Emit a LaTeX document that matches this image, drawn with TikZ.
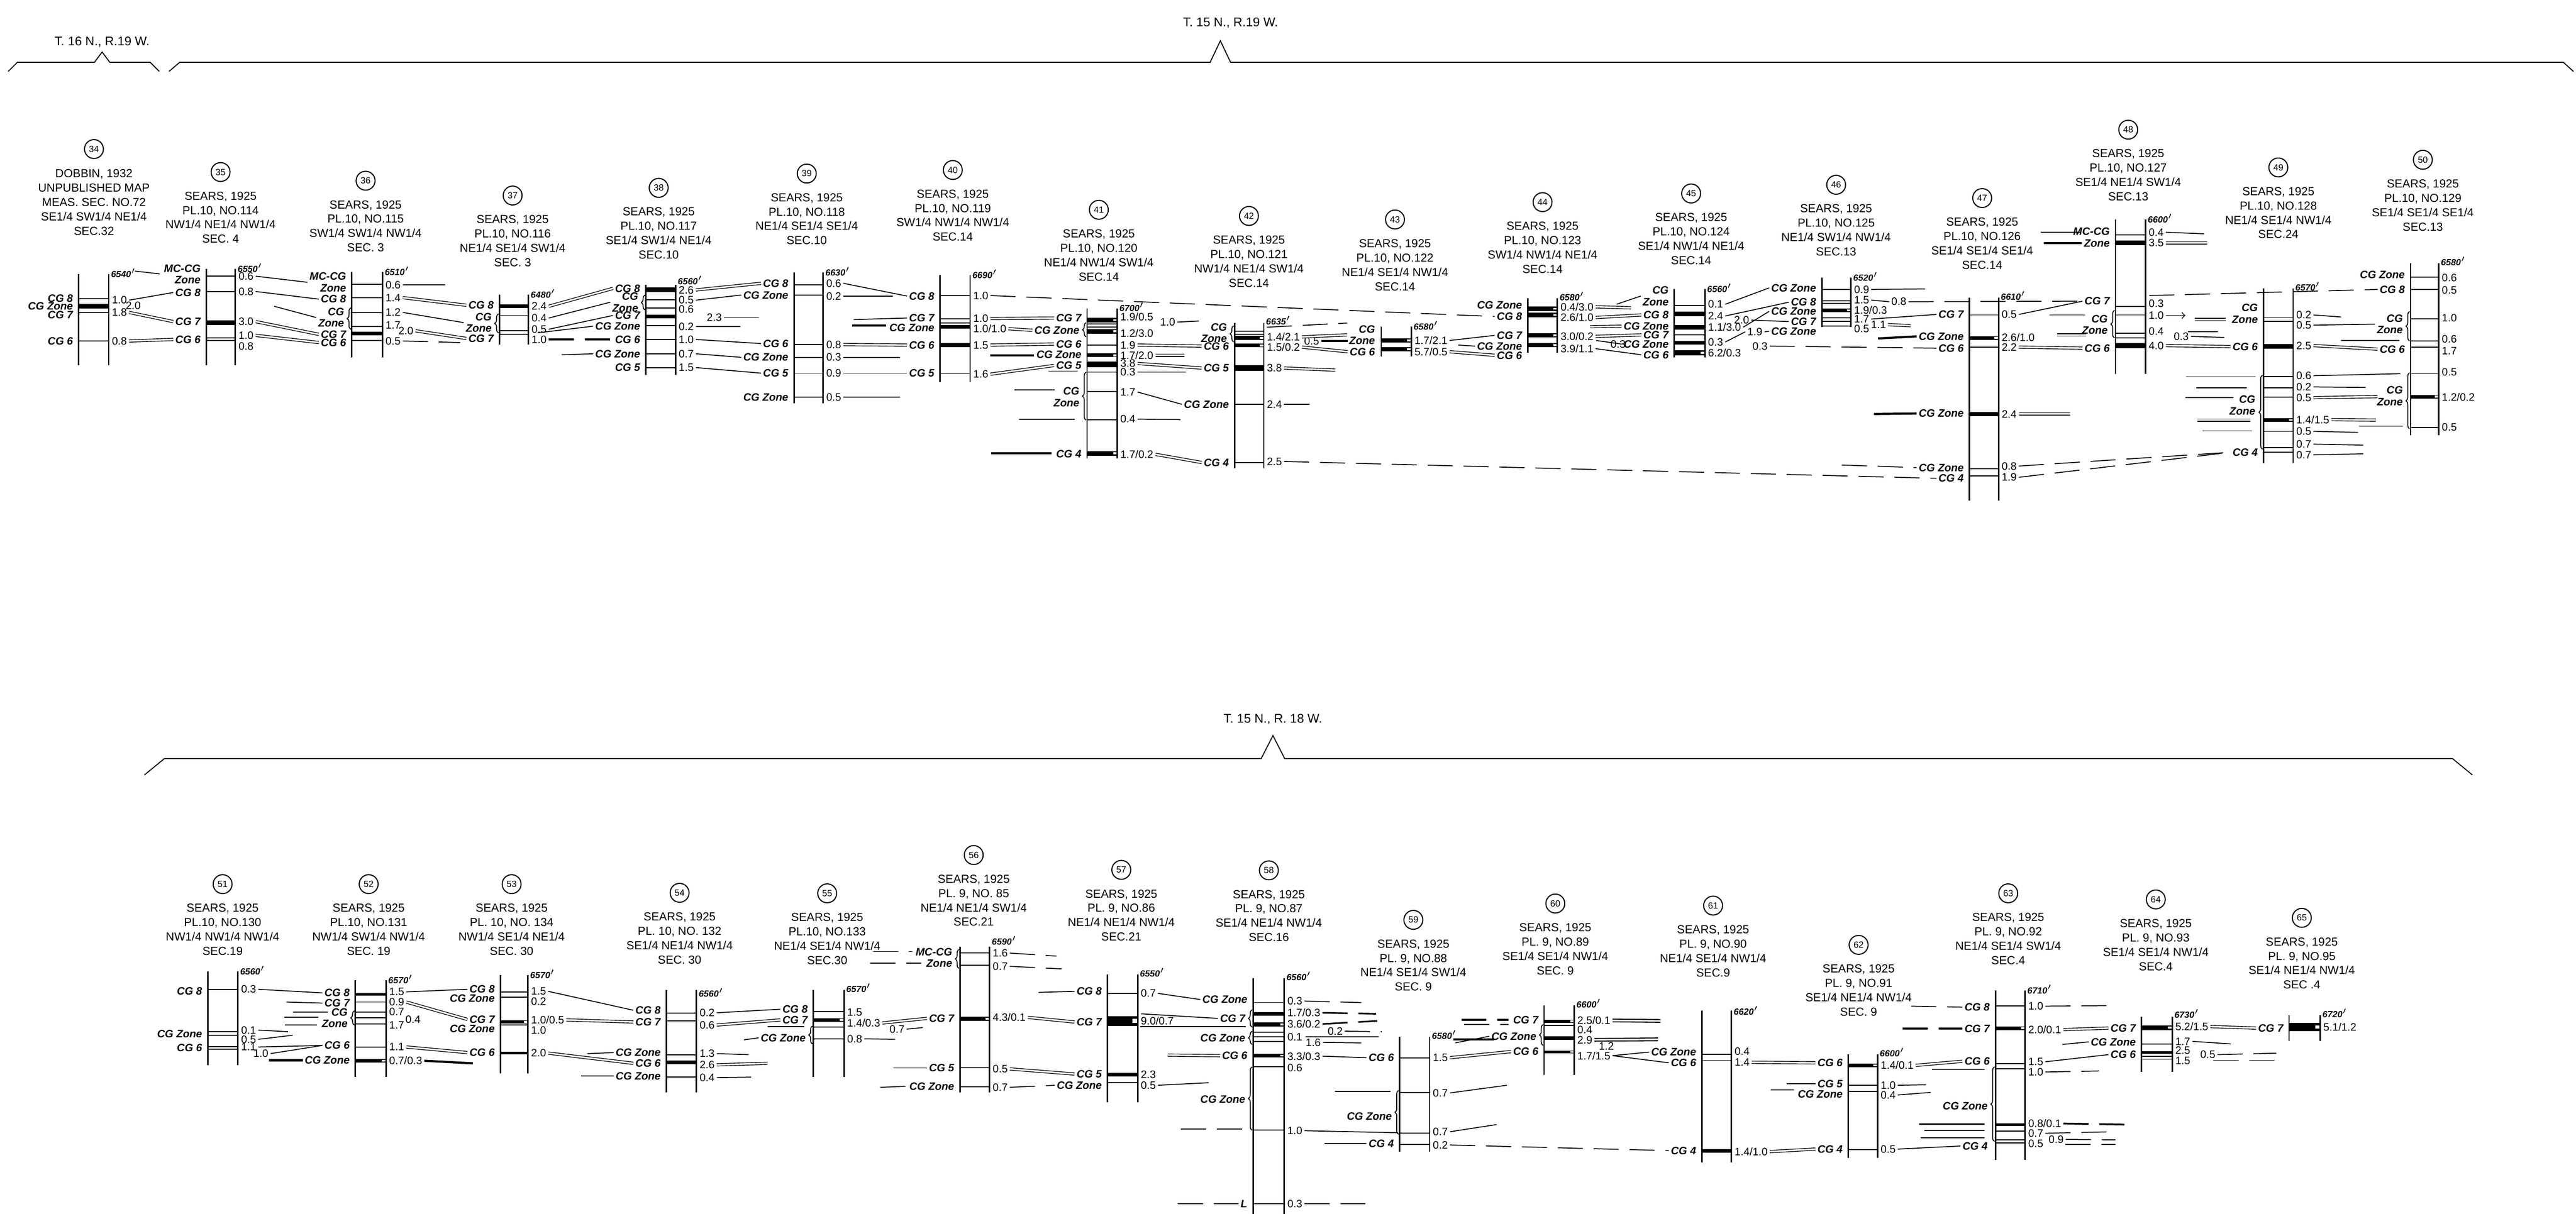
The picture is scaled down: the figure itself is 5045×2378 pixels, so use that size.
\documentclass[tikz,border=0pt]{standalone}
\usepackage{fontspec}
\setmainfont{Liberation Sans}
\usetikzlibrary{decorations.pathreplacing}

\begin{document}
\begin{tikzpicture}[x=0.01cm, y=-0.01cm,
    num/.style={draw, circle, line width=0.6pt, inner sep=0pt, minimum size=0.37cm, font=\fontsize{5}{5.5}\selectfont},
    hd/.style={anchor=north, align=center, inner sep=0pt, font=\fontsize{6.5}{8}\selectfont},
    lab/.style={anchor=east, align=right, inner sep=1pt, font=\fontsize{6}{6.5}\selectfont\bfseries\itshape},
    val/.style={anchor=west, inner sep=1pt, font=\fontsize{6}{6.5}\selectfont},
    elev/.style={anchor=west, inner sep=0.5pt, font=\fontsize{5}{5.5}\selectfont\bfseries\itshape},
    ttl/.style={font=\fontsize{7}{8}\selectfont},
    colline/.style={line width=0.8pt},
    bedl/.style={line width=0.55pt},
    coal/.style={line width=2.6pt},
    notch/.style={white, line width=1pt},
    corr/.style={line width=0.5pt},
    dcorr/.style={corr, dash pattern=on 14pt off 6pt},
    dbl/.style={double, double distance=0.9pt, line width=0.4pt},
    zbrace/.style={decorate, decoration={brace, amplitude=2pt}, line width=0.5pt}]

\useasboundingbox (0,0) rectangle (5045,2378);

% township brackets
\node[ttl] (t16) at (200,82) {T. 16 N., R.19 W.};
\draw[bedl] (16,140) -- (34,122) -- (185,122) -- (200,102) -- (215,122) -- (294,122) -- (312,140);
\node[ttl] (t15a) at (2410,45) {T. 15 N., R.19 W.};
\draw[bedl] (331,140) -- (352,122) -- (2370,122) -- (2390,80) -- (2410,122) -- (5020,122) -- (5040,140);
\node[ttl] (t15b) at (2493,1409) {T. 15 N., R. 18 W.};
\draw[bedl] (283,1518) -- (322,1486) -- (2470,1486) -- (2493,1441) -- (2516,1486) -- (4803,1486) -- (4842,1518);

% ---------------- upper row ----------------
% 34
\node[num] (c34) at (184,292) {34};
\node[hd] (h34) at (184,331) {DOBBIN, 1932\\UNPUBLISHED MAP\\MEAS. SEC. NO.72\\SE1/4 SW1/4 NE1/4\\SEC.32};
\draw[bedl] (154,585) -- (213,585) (154,612) -- (213,612) (154,668) -- (213,668);
\draw[coal] (154,600) -- (213,600);
\draw[colline] (154,537) -- (154,715) (213,537) -- (213,715);
\node[elev] (e34) at (215,535) {6540$'$};
\node[lab] (l34a) at (147,584) {CG 8};
\node[lab] (l34b) at (147,600) {CG Zone};
\node[lab] (l34c) at (147,617) {CG 7};
\node[lab] (l34d) at (147,668) {CG 6};
\node[val] (v34a) at (215,588) {1.0};
\node[val] (v34b) at (242,599) {2.0};
\node[val] (v34c) at (215,612) {1.8};
\node[val] (v34d) at (215,668) {0.8};

% 35
\node[num] (c35) at (432,337) {35};
\node[hd] (h35) at (432,375) {SEARS, 1925\\PL.10, NO.114\\NW1/4 NE1/4 NW1/4\\SEC. 4};
\draw[bedl] (404,541) -- (461,541) (404,571) -- (461,571) (404,662) -- (461,662) (404,667) -- (461,667);
\draw[coal] (404,632) -- (461,632);
\draw[colline] (404,527) -- (404,715) (461,527) -- (461,715);
\node[elev] (e35) at (463,525) {6550$'$};
\node[lab] (l35a) at (397,537) {MC-CG\\Zone};
\node[lab] (l35b) at (397,573) {CG 8};
\node[lab] (l35c) at (397,630) {CG 7};
\node[lab] (l35d) at (397,665) {CG 6};
\node[val] (v35a) at (463,541) {0.6};
\node[val] (v35b) at (463,571) {0.8};
\node[val] (v35c) at (463,630) {3.0};
\node[val] (v35d) at (463,657) {1.0};
\node[val] (v35e) at (463,678) {0.8};
\draw[corr] (v34a.east) -- (l35b.west);
\draw[dbl] (v34c.east) -- (l35c.west);
\draw[dbl] (v34d.east) -- (l35d.west);
\draw[dcorr] (264,531) -- (l35a.west);

% 36
\node[num] (c36) at (716,354) {36};
\node[hd] (h36) at (716,392) {SEARS, 1925\\PL.10, NO.115\\SW1/4 SW1/4 NW1/4\\SEC. 3};
\draw[bedl] (689,557) -- (749,557) (689,583) -- (749,583) (689,612) -- (749,612) (689,640) -- (749,640) (689,667) -- (749,667);
\draw[coal, line width=2pt] (689,653) -- (749,653);
\draw[colline] (689,533) -- (689,700) (749,533) -- (749,700);
\node[elev] (e36) at (751,531) {6510$'$};
\draw[zbrace] (687,645) -- (687,603);
\node[lab] (l36a) at (682,553) {MC-CG\\Zone};
\node[lab] (l36b) at (682,586) {CG 8};
\node[lab] (l36c) at (678,622) {CG\\Zone};
\node[lab] (l36d) at (682,655) {CG 7};
\node[lab] (l36e) at (682,671) {CG 6};
\node[val] (v36a) at (751,558) {0.6};
\node[val] (v36b) at (751,583) {1.4};
\node[val] (v36c) at (751,612) {1.2};
\node[val] (v36d) at (751,637) {1.7};
\node[val] (v36e) at (776,648) {2.0};
\node[val] (v36f) at (751,668) {0.5};
\draw[corr] (v35a.east) -- (l36a.west);
\draw[corr] (v35b.east) -- (l36b.west);
\draw[corr] (537,600) -- (l36c.west);
\draw[dbl] (v35c.east) -- (l36d.west);
\draw[dbl] (v35d.east) -- (l36e.west);

% 37
\node[num] (c37) at (1004,383) {37};
\node[hd] (h37) at (1004,421) {SEARS, 1925\\PL.10, NO.116\\NE1/4 SE1/4 SW1/4\\SEC. 3};
\draw[bedl] (978,618) -- (1035,618) (978,648) -- (1035,648) (978,655) -- (1035,655);
\draw[coal, line width=2.2pt] (978,600) -- (1035,600);
\draw[colline] (978,577) -- (978,675) (1035,577) -- (1035,675);
\node[elev] (e37) at (1037,575) {6480$'$};
\draw[zbrace] (976,652) -- (976,615);
\node[lab] (l37a) at (971,598) {CG 8};
\node[lab] (l37b) at (967,632) {CG\\Zone};
\node[lab] (l37c) at (971,663) {CG 7};
\node[val] (v37a) at (1037,600) {2.4};
\node[val] (v37b) at (1037,623) {0.4};
\node[val] (v37c) at (1037,645) {0.5};
\node[val] (v37d) at (1037,665) {1.0};
\draw[corr] (v36a.east) -- (872,558);
\draw[dbl] (v36b.east) -- (l37a.west);
\draw[corr] (v36c.east) -- (l37b.west);
\draw[dbl] (v36e.east) -- (l37c.west);
\draw[dcorr] (v36f.east) -- (901,671);

% 38
\node[num] (c38) at (1290,368) {38};
\node[hd] (h38) at (1290,406) {SEARS, 1925\\PL.10, NO.117\\SE1/4 SW1/4 NE1/4\\SEC.10};
\draw[bedl] (1265,587) -- (1323,587) (1265,603) -- (1323,603) (1265,638) -- (1323,638) (1265,665) -- (1323,665) (1265,693) -- (1323,693) (1265,720) -- (1323,720);
\draw[coal] (1265,568) -- (1323,568);
\draw[coal, line width=2pt] (1265,620) -- (1323,620);
\draw[colline] (1265,558) -- (1265,735) (1323,558) -- (1323,735);
\node[elev] (e38) at (1325,549) {6560$'$};
\draw[zbrace] (1263,607) -- (1263,578);
\node[lab] (l38a) at (1258,565) {CG 8};
\node[lab] (l38b) at (1254,592) {CG\\Zone};
\node[lab] (l38c) at (1258,618) {CG 7};
\node[lab] (l38d) at (1258,639) {CG Zone};
\node[lab] (l38e) at (1258,665) {CG 6};
\node[lab] (l38f) at (1258,693) {CG Zone};
\node[lab] (l38g) at (1258,720) {CG 5};
\node[val] (v38a) at (1325,568) {2.6};
\node[val] (v38b) at (1325,588) {0.5};
\node[val] (v38c) at (1325,606) {0.6};
\node[val] (v38d) at (1380,622) {2.3};
\node[val] (v38e) at (1325,640) {0.2};
\node[val] (v38f) at (1325,665) {1.0};
\node[val] (v38g) at (1325,693) {0.7};
\node[val] (v38h) at (1325,720) {1.5};
\draw[dbl] (v37a.east) -- (l38a.west);
\draw[corr] (v37b.east) -- (l38b.west);
\draw[corr] (v37c.east) -- (l38c.west);
\draw[corr] (1053,652) -- (l38d.west);
\draw[dcorr, line width=1pt] (v37d.east) -- (l38e.west);
\draw[corr] (1100,695) -- (l38f.west);

% 39
\node[num] (c39) at (1580,340) {39};
\node[hd] (h39) at (1580,378) {SEARS, 1925\\PL.10, NO.118\\NE1/4 SE1/4 SE1/4\\SEC.10};
\draw[bedl] (1555,558) -- (1612,558) (1555,578) -- (1612,578) (1555,675) -- (1612,675) (1555,700) -- (1612,700) (1555,731) -- (1612,731) (1555,778) -- (1612,778);
\draw[colline] (1555,534) -- (1555,790) (1612,534) -- (1612,790);
\node[elev] (e39) at (1614,532) {6630$'$};
\node[lab] (l39a) at (1548,555) {CG 8};
\node[lab] (l39b) at (1548,578) {CG Zone};
\node[lab] (l39c) at (1548,673) {CG 6};
\node[lab] (l39d) at (1548,700) {CG Zone};
\node[lab] (l39e) at (1548,731) {CG 5};
\node[lab] (l39f) at (1548,778) {CG Zone};
\node[val] (v39a) at (1614,555) {0.6};
\node[val] (v39b) at (1614,580) {0.2};
\node[val] (v39c) at (1614,675) {0.8};
\node[val] (v39d) at (1614,700) {0.3};
\node[val] (v39e) at (1614,731) {0.9};
\node[val] (v39f) at (1614,778) {0.5};
\draw[dbl] (v38a.east) -- (l39a.west);
\draw[corr] (v38b.east) -- (l39b.west);
\draw[corr] (v38d.east) -- (1486,622);
\draw[corr] (v38e.east) -- (1450,640);
\draw[corr] (v38f.east) -- (l39c.west);
\draw[corr] (v38g.east) -- (l39d.west);
\draw[corr] (v38h.east) -- (l39e.west);

% 40
\node[num] (c40) at (1866,333) {40};
\node[hd] (h40) at (1866,371) {SEARS, 1925\\PL.10, NO.119\\SW1/4 NW1/4 NW1/4\\SEC.14};
\draw[bedl] (1841,579) -- (1900,579) (1841,732) -- (1900,732);
\draw[bedl] (1841,625) rectangle (1900,633);
\draw[coal, line width=2pt] (1841,640) -- (1900,640);
\draw[coal, line width=2.4pt] (1841,676) -- (1900,676);
\draw[colline] (1841,539) -- (1841,749) (1900,539) -- (1900,749);
\node[elev] (e40) at (1902,537) {6690$'$};
\node[lab] (l40a) at (1834,580) {CG 8};
\node[lab] (l40b) at (1834,623) {CG 7};
\node[lab] (l40c) at (1834,642) {CG Zone};
\node[lab] (l40d) at (1834,676) {CG 6};
\node[lab] (l40e) at (1834,731) {CG 5};
\node[val] (v40a) at (1902,579) {1.0};
\node[val] (v40b) at (1902,624) {1.0};
\node[val] (v40c) at (1902,644) {1.0/1.0};
\node[val] (v40d) at (1902,676) {1.5};
\node[val] (v40e) at (1902,733) {1.6};
\draw[corr] (v39a.east) -- (l40a.west);
\draw[corr] (v39b.east) -- (1749,580);
\draw[corr] (1672,626) -- (l40b.west);
\draw[corr, line width=1.2pt] (1669,638) -- (1735,638);
\draw[dbl] (v39c.east) -- (l40d.west);
\draw[corr] (v39d.east) -- (1763,700);
\draw[corr] (v39e.east) -- (l40e.west);
\draw[corr] (v39f.east) -- (1763,778);

% 41
\node[num] (c41) at (2152,411) {41};
\node[hd] (h41) at (2152,449) {SEARS, 1925\\PL.10, NO.120\\NE1/4 NW1/4 SW1/4\\SEC.14};
\draw[bedl] (2129,676) -- (2188,676) (2129,729) -- (2188,729) (2129,767) -- (2188,767) (2129,822) -- (2188,822);
\draw[bedl] (2129,635) rectangle (2188,641);
\draw[coal] (2129,627) -- (2188,627) (2129,649) -- (2188,649) (2129,888) -- (2188,888);
\draw[coal, line width=2pt] (2129,696) -- (2188,696);
\draw[coal, line width=3pt] (2129,714) -- (2188,714);
\draw[notch] (2180,627) -- (2188,627) (2180,649) -- (2188,649) (2180,696) -- (2188,696) (2180,888) -- (2188,888);
\draw[colline] (2129,604) -- (2129,898) (2188,604) -- (2188,898);
\node[elev] (e41) at (2190,602) {6700$'$};
\draw[zbrace] (2127,660) -- (2127,632);
\draw[zbrace] (2127,823) -- (2127,729);
\node[lab] (l41a) at (2122,623) {CG 7};
\node[lab] (l41b) at (2118,647) {CG Zone};
\node[lab] (l41c) at (2122,674) {CG 6};
\node[lab] (l41d) at (2122,694) {CG Zone};
\node[lab] (l41e) at (2122,716) {CG 5};
\node[lab] (l41f) at (2118,778) {CG\\Zone};
\node[lab] (l41g) at (2122,889) {CG 4};
\node[val] (v41a) at (2190,621) {1.9/0.5};
\node[val] (v41b) at (2268,631) {1.0};
\node[val] (v41c) at (2190,653) {1.2/3.0};
\node[val] (v41d) at (2190,676) {1.9};
\node[val] (v41e) at (2190,696) {1.7/2.0};
\node[val] (v41f) at (2190,712) {3.8};
\node[val] (v41g) at (2190,729) {0.3};
\node[val] (v41h) at (2190,768) {1.7};
\node[val] (v41i) at (2190,821) {0.4};
\node[val] (v41j) at (2190,890) {1.7/0.2};
\draw[dbl] (v40b.east) -- (l41a.west);
\draw[dbl] (v40c.east) -- (l41b.west);
\draw[dbl] (v40d.east) -- (l41c.west);
\draw[corr, line width=1.2pt] (1939,696) -- (2025,696);
\draw[dbl] (v40e.east) -- (l41e.west);
\draw[corr] (2053,727) -- (2111,727);
\draw[corr] (1987,764) -- (2065,764);
\draw[corr] (1996,821) -- (2105,821);
\draw[corr, line width=1.2pt] (1941,888) -- (2059,888);

% 42
\node[num] (c42) at (2446,423) {42};
\node[hd] (h42) at (2446,461) {SEARS, 1925\\PL.10, NO.121\\NW1/4 NE1/4 SW1/4\\SEC.14};
\draw[bedl] (2418,792) -- (2475,792) (2418,906) -- (2475,906);
\draw[bedl] (2418,649) rectangle (2475,655);
\draw[coal, line width=2.2pt] (2418,662) -- (2475,662);
\draw[coal, line width=2pt] (2418,677) -- (2475,677);
\draw[coal, line width=3pt] (2418,721) -- (2475,721);
\draw[notch] (2467,662) -- (2475,662) (2467,677) -- (2475,677);
\draw[colline] (2418,633) -- (2418,917) (2475,633) -- (2475,917);
\node[elev] (e42) at (2477,628) {6635$'$};
\draw[zbrace] (2416,670) -- (2416,638);
\node[lab] (l42a) at (2407,652) {CG\\Zone};
\node[lab] (l42b) at (2411,678) {CG 6};
\node[lab] (l42c) at (2411,721) {CG 5};
\node[lab] (l42d) at (2411,792) {CG Zone};
\node[lab] (l42e) at (2411,906) {CG 4};
\node[val] (v42a) at (2477,660) {1.4/2.1};
\node[val] (v42b) at (2477,680) {1.5/0.2};
\node[val] (v42c) at (2477,721) {3.8};
\node[val] (v42d) at (2477,792) {2.4};
\node[val] (v42e) at (2477,904) {2.5};
\node[val] (v42f) at (2550,668) {0.5};
\draw[corr] (v41b.east) -- (l42a.north west);
\draw[dbl] (v41d.east) -- (l42b.west);
\draw[dbl] (v41e.east) -- (2320,696);
\draw[dbl] (v41f.east) -- (l42c.west);
\draw[corr] (v41g.east) -- (2323,729);
\draw[corr] (v41h.east) -- (l42d.west);
\draw[corr] (v41i.east) -- (2312,822);
\draw[dbl] (v41j.east) -- (l42e.west);

% 43
\node[num] (c43) at (2732,430) {43};
\node[hd] (h43) at (2732,468) {SEARS, 1925\\PL.10, NO.122\\NE1/4 SE1/4 NW1/4\\SEC.14};
\draw[coal, line width=2.4pt] (2705,667) -- (2764,667) (2705,684) -- (2764,684);
\draw[notch] (2756,667) -- (2764,667) (2756,684) -- (2764,684);
\draw[colline] (2705,640) -- (2705,698) (2764,640) -- (2764,698);
\node[elev] (e43) at (2766,638) {6580$'$};
\node[lab] (l43a) at (2697,656) {CG\\Zone};
\node[lab] (l43b) at (2697,689) {CG 6};
\node[val] (v43a) at (2766,667) {1.7/2.1};
\node[val] (v43b) at (2766,689) {5.7/0.5};
\draw[dcorr] (2481,641) -- (l43a.north west);
\draw[dbl] (v42a.east) -- (l43a.west);
\draw[dbl] (v42b.east) -- (l43b.west);
\draw[corr, line width=1.2pt] (v42f.east) -- (2640,668);
\draw[dbl] (v42c.east) -- (2615,725);
\draw[corr] (v42d.east) -- (2565,792);

% 44
\node[num] (c44) at (3021,396) {44};
\node[hd] (h44) at (3021,434) {SEARS, 1925\\PL.10, NO.123\\SW1/4 NW1/4 NE1/4\\SEC.14};
\draw[coal, line width=2.4pt] (2992,605) -- (3050,605) (2992,617) -- (3050,617) (2992,657) -- (3050,657) (2992,676) -- (3050,676);
\draw[notch] (3042,605) -- (3050,605) (3042,617) -- (3050,617) (3042,657) -- (3050,657) (3042,676) -- (3050,676);
\draw[colline] (2992,584) -- (2992,691) (3050,584) -- (3050,691);
\node[elev] (e44) at (3052,580) {6580$'$};
\node[lab] (l44a) at (2985,598) {CG Zone};
\node[lab] (l44b) at (2985,620) {CG 8};
\node[lab] (l44c) at (2985,657) {CG 7};
\node[lab] (l44d) at (2985,678) {CG Zone};
\node[lab] (l44e) at (2985,696) {CG 6};
\node[val] (v44a) at (3052,601) {0.4/3.0};
\node[val] (v44b) at (3052,622) {2.6/1.0};
\node[val] (v44c) at (3052,659) {3.0/0.2};
\node[val] (v44d) at (3150,674) {0.3};
\node[val] (v44e) at (3052,683) {3.9/1.1};
\draw[corr] (v43a.east) -- (l44c.west);
\draw[dbl] (v43b.east) -- (l44e.west);
\draw[corr] (2856,676) -- (l44d.west);
\draw[dcorr] (v40a.east) -- (l44b.west);

% 45
\node[num] (c45) at (3312,379) {45};
\node[hd] (h45) at (3312,417) {SEARS, 1925\\PL.10, NO.124\\SE1/4 NW1/4 NE1/4\\SEC.14};
\draw[bedl] (3279,598) -- (3339,598) (3279,656) -- (3339,656);
\draw[coal] (3279,615) -- (3339,615) (3279,641) -- (3339,641);
\draw[coal, line width=2pt] (3279,671) -- (3339,671);
\draw[coal, line width=3pt] (3279,691) -- (3339,691);
\draw[notch] (3331,691) -- (3339,691);
\draw[colline] (3279,566) -- (3279,700) (3339,566) -- (3339,700);
\node[elev] (e45) at (3341,564) {6560$'$};
\node[lab] (l45a) at (3272,580) {CG\\Zone};
\node[lab] (l45b) at (3272,617) {CG 8};
\node[lab] (l45c) at (3272,639) {CG Zone};
\node[lab] (l45d) at (3272,656) {CG 7};
\node[lab] (l45e) at (3272,674) {CG Zone};
\node[lab] (l45f) at (3272,695) {CG 6};
\node[val] (v45a) at (3341,596) {0.1};
\node[val] (v45b) at (3341,619) {2.4};
\node[val] (v45c) at (3341,641) {1.1/3.0};
\node[val] (v45d) at (3341,670) {0.3};
\node[val] (v45e) at (3341,691) {6.2/0.3};
\node[val] (v45f) at (3392,627) {2.0};
\node[val] (v45g) at (3418,650) {1.9};
\node[val] (v45h) at (3428,678) {0.3};
\draw[dbl] (v44a.east) -- (3194,603);
\draw[corr] (3166,596) -- (l45a.west);
\draw[dbl] (v44b.east) -- (l45b.west);
\draw[dbl] (3114,640) -- (l45c.west);
\draw[dbl] (v44c.east) -- (l45d.west);
\draw[corr] (3126,667) -- (l45e.west);
\draw[corr] (v44e.east) -- (l45f.west);

% 46
\node[num] (c46) at (3596,362) {46};
\node[hd] (h46) at (3596,400) {SEARS, 1925\\PL.10, NO.125\\NE1/4 SW1/4 NW1/4\\SEC.13};
\draw[bedl] (3568,567) -- (3625,567) (3568,589) -- (3625,589) (3568,594) -- (3625,594) (3568,623) -- (3625,623) (3568,630) -- (3625,630) (3568,639) -- (3625,639);
\draw[coal, line width=2.2pt] (3568,608) -- (3625,608);
\draw[notch] (3617,608) -- (3625,608);
\draw[colline] (3568,544) -- (3568,641) (3625,544) -- (3625,641);
\node[elev] (e46) at (3627,542) {6520$'$};
\node[lab] (l46a) at (3561,564) {CG Zone};
\node[lab] (l46b) at (3561,592) {CG 8};
\node[lab] (l46c) at (3561,610) {CG Zone};
\node[lab] (l46d) at (3561,630) {CG 7};
\node[lab] (l46e) at (3561,649) {CG Zone};
\node[val] (v46a) at (3627,567) {0.9};
\node[val] (v46b) at (3627,588) {1.5};
\node[val] (v46c) at (3700,591) {0.8};
\node[val] (v46d) at (3627,607) {1.9/0.3};
\node[val] (v46e) at (3627,625) {1.7};
\node[val] (v46f) at (3660,636) {1.1};
\node[val] (v46g) at (3627,644) {0.5};
\draw[corr] (v45a.east) -- (l46a.west);
\draw[corr] (v45b.east) -- (l46b.west);
\draw[corr] (v45c.east) -- (l46c.west);
\draw[corr] (v45f.east) -- (l46d.west);
\draw[corr] (v45g.east) -- (l46e.west);
\draw[corr] (v45d.east) -- (v45g.west);

% 47
\node[num] (c47) at (3882,388) {47};
\node[hd] (h47) at (3882,426) {SEARS, 1925\\PL.10, NO.126\\SE1/4 SE1/4 SE1/4\\SEC.14};
\draw[bedl] (3857,617) -- (3914,617) (3857,680) -- (3914,680) (3857,918) -- (3914,918) (3857,932) -- (3914,932);
\draw[coal, line width=2pt] (3857,662) -- (3914,662);
\draw[coal, line width=2.2pt] (3857,811) -- (3914,811);
\draw[notch] (3906,662) -- (3914,662);
\draw[colline] (3857,583) -- (3857,981) (3914,583) -- (3914,981);
\node[elev] (e47) at (3916,579) {6610$'$};
\node[lab] (l47a) at (3850,616) {CG 7};
\node[lab] (l47b) at (3850,659) {CG Zone};
\node[lab] (l47c) at (3850,682) {CG 6};
\node[lab] (l47d) at (3850,810) {CG Zone};
\node[lab] (l47e) at (3850,916) {CG Zone};
\node[lab] (l47f) at (3850,937) {CG 4};
\node[val] (v47a) at (3916,616) {0.5};
\node[val] (v47b) at (3916,661) {2.6/1.0};
\node[val] (v47c) at (3916,680) {2.2};
\node[val] (v47d) at (3916,811) {2.4};
\node[val] (v47e) at (3916,913) {0.8};
\node[val] (v47f) at (3916,935) {1.9};
\draw[corr] (v46a.east) -- (3770,566);
\draw[corr] (v46b.east) -- (v46c.west);
\draw[corr] (v46e.east) -- (l47a.west);
\draw[dbl] (v46f.east) -- (3742,638);
\draw[corr, line width=1.2pt] (3678,663) -- (l47b.west);
\draw[dcorr] (v45h.east) -- (l47c.west);
\draw[dcorr] (3607,911) -- (l47e.west);
\draw[dcorr] (v42e.east) -- (l47f.west);
\draw[corr, line width=1.2pt] (3670,811) -- (l47d.west);
\draw[dbl] (v47d.east) -- (4054,811);

% 48
\node[num] (c48) at (4168,254) {48};
\node[hd] (h48) at (4168,292) {SEARS, 1925\\PL.10, NO.127\\SE1/4 NE1/4 SW1/4\\SEC.13};
\draw[bedl] (4143,460) -- (4202,460) (4143,600) -- (4202,600) (4143,617) -- (4202,617) (4143,653) -- (4202,653) (4143,662) -- (4202,662);
\draw[coal] (4143,476) -- (4202,476) (4143,677) -- (4202,677);
\draw[colline] (4143,430) -- (4143,733) (4202,430) -- (4202,733);
\node[elev] (e48) at (4204,428) {6600$'$};
\draw[zbrace] (4141,662) -- (4141,608);
\node[lab] (l48a) at (4136,465) {MC-CG\\Zone};
\node[lab] (l48b) at (4136,590) {CG 7};
\node[lab] (l48c) at (4132,636) {CG\\Zone};
\node[lab] (l48d) at (4136,682) {CG 6};
\node[val] (v48a) at (4204,455) {0.4};
\node[val] (v48b) at (4204,476) {3.5};
\node[val] (v48c) at (4204,595) {0.3};
\node[val] (v48d) at (4204,618) {1.0};
\node[val] (v48e) at (4204,649) {0.4};
\node[val] (v48f) at (4253,659) {0.3};
\node[val] (v48g) at (4204,677) {4.0};
\draw[corr] (v47a.east) -- (l48b.west);
\draw[dbl] (v47c.east) -- (l48d.west);
\draw[corr] (4014,617) -- (4083,617);
\draw[dbl] (4029,656) -- (4085,656);
\draw[corr] (3997,455) -- (4075,455);
\draw[corr, line width=1.2pt] (4003,476) -- (4077,476);
\draw[dcorr] (v46c.east) -- (l48b.west);

% 49
\node[num] (c49) at (4462,328) {49};
\node[hd] (h49) at (4462,366) {SEARS, 1925\\PL.10, NO.128\\NE1/4 SE1/4 NW1/4\\SEC.24};
\draw[bedl] (4433,622) -- (4491,622) (4433,630) -- (4491,630) (4433,738) -- (4491,738) (4433,760) -- (4491,760) (4433,778) -- (4491,778) (4433,845) -- (4491,845) (4433,877) -- (4491,877) (4433,886) -- (4491,886);
\draw[coal] (4433,679) -- (4491,679);
\draw[coal, line width=2pt] (4433,823) -- (4491,823);
\draw[notch] (4483,823) -- (4491,823);
\draw[colline] (4433,565) -- (4433,907) (4491,565) -- (4491,907);
\node[elev] (e49) at (4493,561) {6570$'$};
\draw[zbrace] (4431,880) -- (4431,735);
\node[lab] (l49a) at (4426,614) {CG\\Zone};
\node[lab] (l49b) at (4426,679) {CG 6};
\node[lab] (l49c) at (4421,794) {CG\\Zone};
\node[lab] (l49d) at (4426,886) {CG 4};
\node[val] (v49a) at (4493,617) {0.2};
\node[val] (v49b) at (4493,637) {0.5};
\node[val] (v49c) at (4493,677) {2.5};
\node[val] (v49d) at (4493,736) {0.6};
\node[val] (v49e) at (4493,758) {0.2};
\node[val] (v49f) at (4493,779) {0.5};
\node[val] (v49g) at (4493,822) {1.4/1.5};
\node[val] (v49h) at (4493,845) {0.5};
\node[val] (v49i) at (4493,870) {0.7};
\node[val] (v49j) at (4493,891) {0.7};
\draw[corr] (v48a.east) -- (4316,458);
\draw[dbl] (v48b.east) -- (4323,476);
\draw[corr, ->] (v48d.east) -- (4280,618);
\draw[dbl] (4298,626) -- (4359,626);
\draw[corr] (v48f.east) -- (4356,661);
\draw[corr] (4285,650) -- (4344,650);
\draw[dbl] (v48g.east) -- (l49b.west);
\draw[corr] (4281,738) -- (4417,738);
\draw[corr] (4301,760) -- (4400,760);
\draw[corr] (4280,779) -- (4374,779);
\draw[dbl] (4303,823) -- (4407,823);
\draw[corr] (4313,844) -- (4410,844);
\draw[dcorr] (v47e.east) -- (l49d.west);
\draw[dcorr] (v47f.east) -- (l49d.west);

% 50
\node[num] (c50) at (4745,313) {50};
\node[hd] (h50) at (4745,351) {SEARS, 1925\\PL.10, NO.129\\SE1/4 SE1/4 SE1/4\\SEC.13};
\draw[bedl] (4721,543) -- (4776,543) (4721,567) -- (4776,567) (4721,625) -- (4776,625) (4721,668) -- (4776,668) (4721,680) -- (4776,680) (4721,732) -- (4776,732) (4721,837) -- (4776,837);
\draw[coal, line width=2pt] (4721,777) -- (4776,777);
\draw[notch] (4768,777) -- (4776,777);
\draw[colline] (4721,516) -- (4721,853) (4776,516) -- (4776,853);
\node[elev] (e50) at (4778,512) {6580$'$};
\draw[zbrace] (4719,668) -- (4719,610);
\draw[zbrace] (4719,840) -- (4719,730);
\node[lab] (l50a) at (4714,538) {CG Zone};
\node[lab] (l50b) at (4714,567) {CG 8};
\node[lab] (l50c) at (4710,635) {CG\\Zone};
\node[lab] (l50d) at (4714,684) {CG 6};
\node[lab] (l50e) at (4710,776) {CG\\Zone};
\node[val] (v50a) at (4778,544) {0.6};
\node[val] (v50b) at (4778,568) {0.5};
\node[val] (v50c) at (4778,623) {1.0};
\node[val] (v50d) at (4778,664) {0.6};
\node[val] (v50e) at (4778,687) {1.7};
\node[val] (v50f) at (4778,729) {0.5};
\node[val] (v50g) at (4778,778) {1.2/0.2};
\node[val] (v50h) at (4778,837) {0.5};
\draw[dcorr] (4209,579) -- (l50b.west);
\draw[corr] (v49a.east) -- (4585,621);
\draw[corr] (v49b.east) -- (l50c.west);
\draw[dbl] (v49c.east) -- (l50d.west);
\draw[corr] (4585,667) -- (4699,667);
\draw[corr] (v49d.east) -- (4701,732);
\draw[corr] (v49e.east) -- (4633,759);
\draw[dbl] (v49f.east) -- (4656,777);
\draw[dbl] (v49g.east) -- (4653,823);
\draw[corr] (4620,835) -- (4706,835);
\draw[corr] (v49h.east) -- (4618,847);
\draw[corr] (v49i.east) -- (4628,872);
\draw[corr] (v49j.east) -- (4628,889);

% ---------------- lower row ----------------
% 51
\node[num] (c51) at (436,1732) {51};
\node[hd] (h51) at (436,1770) {SEARS, 1925\\PL.10, NO.130\\NW1/4 NW1/4 NW1/4\\SEC.19};
\draw[bedl] (407,1938) -- (466,1938) (407,2021) -- (466,2021) (407,2028) -- (466,2028) (407,2050) -- (466,2050) (407,2055) -- (466,2055);
\draw[colline] (407,1903) -- (407,2087) (466,1903) -- (466,2087);
\node[elev] (e51) at (468,1901) {6560$'$};
\node[lab] (l51a) at (400,1942) {CG 8};
\node[lab] (l51b) at (400,2025) {CG Zone};
\node[lab] (l51c) at (400,2053) {CG 6};
\node[val] (v51a) at (468,1938) {0.3};
\node[val] (v51b) at (468,2018) {0.1};
\node[val] (v51c) at (468,2036) {0.5};
\node[val] (v51d) at (468,2051) {1.1};
\node[val] (v51e) at (492,2064) {1.0};

% 52
\node[num] (c52) at (722,1732) {52};
\node[hd] (h52) at (722,1770) {SEARS, 1925\\PL.10, NO.131\\NW1/4 SW1/4 NW1/4\\SEC. 19};
\draw[bedl] (696,1963) -- (756,1963) (696,1983) -- (756,1983) (696,1994) -- (756,1994) (696,2006) -- (756,2006) (696,2051) -- (756,2051);
\draw[coal, line width=1.4pt] (696,1948) -- (756,1948);
\draw[coal, line width=2pt] (696,2078) -- (756,2078);
\draw[notch] (748,2078) -- (756,2078);
\draw[colline] (696,1920) -- (696,2110) (756,1920) -- (756,2110);
\node[elev] (e52) at (758,1918) {6570$'$};
\draw[zbrace] (694,2008) -- (694,1980);
\node[lab] (l52a) at (689,1945) {CG 8};
\node[lab] (l52b) at (689,1965) {CG 7};
\node[lab] (l52c) at (685,1994) {CG\\Zone};
\node[lab] (l52d) at (689,2048) {CG 6};
\node[lab] (l52e) at (689,2077) {CG Zone};
\node[val] (v52a) at (758,1943) {1.5};
\node[val] (v52b) at (758,1963) {0.9};
\node[val] (v52c) at (758,1982) {0.7};
\node[val] (v52d) at (790,1997) {0.4};
\node[val] (v52e) at (758,2008) {1.7};
\node[val] (v52f) at (758,2051) {1.1};
\node[val] (v52g) at (758,2078) {0.7/0.3};
\draw[corr] (v51a.east) -- (l52a.west);
\draw[corr] (v51b.east) -- (564,2021);
\draw[corr] (v51c.east) -- (573,2028);
\draw[corr] (v51d.east) -- (l52d.west);
\draw[corr] (v51e.east) -- (l52d.west);
\draw[corr] (561,1963) -- (l52b.west);
\draw[corr] (574,1983) -- (642,1983);
\draw[corr] (557,1993) -- (624,1993);
\draw[corr] (558,2008) -- (621,2008);
\draw[corr, line width=1.2pt] (527,2077) -- (593,2077);

% 53
\node[num] (c53) at (1002,1732) {53};
\node[hd] (h53) at (1002,1770) {SEARS, 1925\\PL. 10, NO. 134\\NW1/4 SE1/4 NE1/4\\SEC. 30};
\draw[bedl] (980,1943) -- (1034,1943) (980,1953) -- (1034,1953) (980,2008) -- (1034,2008);
\draw[coal, line width=1.6pt] (980,2002) -- (1034,2002) (980,2063) -- (1034,2063);
\draw[notch] (1026,2002) -- (1034,2002);
\draw[colline] (980,1910) -- (980,2103) (1034,1910) -- (1034,2103);
\node[elev] (e53) at (1036,1908) {6570$'$};
\node[lab] (l53a) at (973,1938) {CG 8};
\node[lab] (l53b) at (973,1956) {CG Zone};
\node[lab] (l53c) at (973,1997) {CG 7};
\node[lab] (l53d) at (973,2015) {CG Zone};
\node[lab] (l53e) at (973,2062) {CG 6};
\node[val] (v53a) at (1036,1942) {1.5};
\node[val] (v53b) at (1036,1962) {0.2};
\node[val] (v53c) at (1036,1998) {1.0/0.5};
\node[val] (v53d) at (1036,2018) {1.0};
\node[val] (v53e) at (1036,2063) {2.0};
\draw[corr] (v52a.east) -- (l53a.west);
\draw[dbl] (v52b.east) -- (l53c.west);
\draw[dbl] (v52f.east) -- (l53e.west);
\draw[corr, line width=1.2pt] (v52g.east) -- (926,2083);

% 54
\node[num] (c54) at (1331,1749) {54};
\node[hd] (h54) at (1331,1787) {SEARS, 1925\\PL. 10, NO. 132\\SE1/4 NE1/4 NW1/4\\SEC. 30};
\draw[bedl] (1305,1985) -- (1364,1985) (1305,2000) -- (1364,2000) (1305,2066) -- (1364,2066) (1305,2110) -- (1364,2110);
\draw[coal, line width=1.8pt] (1305,2081) -- (1364,2081);
\draw[colline] (1305,1939) -- (1305,2140) (1364,1939) -- (1364,2140);
\node[elev] (e54) at (1366,1945) {6560$'$};
\node[lab] (l54a) at (1298,1979) {CG 8};
\node[lab] (l54b) at (1298,2002) {CG 7};
\node[lab] (l54c) at (1298,2062) {CG Zone};
\node[lab] (l54d) at (1298,2083) {CG 6};
\node[lab] (l54e) at (1298,2108) {CG Zone};
\node[val] (v54a) at (1366,1984) {0.2};
\node[val] (v54b) at (1366,2008) {0.6};
\node[val] (v54c) at (1366,2064) {1.3};
\node[val] (v54d) at (1366,2086) {2.6};
\node[val] (v54e) at (1366,2111) {0.4};
\draw[corr] (v53a.east) -- (l54a.west);
\draw[dbl] (v53c.east) -- (l54b.west);
\draw[dbl] (v53e.east) -- (l54d.west);
\draw[corr] (1150,2064) -- (l54c.west);
\draw[corr] (1138,2108) -- (l54e.west);

% 55
\node[num] (c55) at (1620,1750) {55};
\node[hd] (h55) at (1620,1788) {SEARS, 1925\\PL.10, NO.133\\NE1/4 SE1/4 NW1/4\\SEC.30};
\draw[bedl] (1593,1982) -- (1653,1982) (1593,2012) -- (1653,2012) (1593,2035) -- (1653,2035);
\draw[coal, line width=2pt] (1593,1998) -- (1653,1998);
\draw[notch] (1645,1998) -- (1653,1998);
\draw[colline] (1593,1939) -- (1593,2110) (1653,1939) -- (1653,2110);
\node[elev] (e55) at (1655,1935) {6570$'$};
\draw[zbrace] (1591,2045) -- (1591,2010);
\node[lab] (l55a) at (1586,1977) {CG 8};
\node[lab] (l55b) at (1586,1998) {CG 7};
\node[lab] (l55c) at (1582,2033) {CG Zone};
\node[val] (v55a) at (1655,1983) {1.5};
\node[val] (v55b) at (1655,2004) {1.4/0.3};
\node[val] (v55c) at (1738,2016) {0.7};
\node[val] (v55d) at (1655,2035) {0.8};
\draw[corr] (v54a.east) -- (l55a.west);
\draw[dbl] (v54b.east) -- (l55b.west);
\draw[corr] (v54c.east) -- (1466,2066);
\draw[dbl] (v54d.east) -- (1503,2083);
\draw[corr] (v54e.east) -- (1471,2110);
\draw[corr] (1503,2011) -- (1575,2011);
\draw[corr] (1457,2037) -- (l55c.west);

% 56
\node[num] (c56) at (1907,1675) {56};
\node[hd] (h56) at (1907,1713) {SEARS, 1925\\PL. 9, NO. 85\\NE1/4 NE1/4 SW1/4\\SEC.21};
\draw[bedl] (1880,1867) -- (1938,1867) (1880,1891) -- (1938,1891) (1880,2092) -- (1938,2092) (1880,2129) -- (1938,2129);
\draw[coal, line width=2.4pt] (1880,1996) -- (1938,1996);
\draw[notch] (1930,1996) -- (1938,1996);
\draw[colline] (1880,1855) -- (1880,2140) (1938,1855) -- (1938,2140);
\node[elev] (e56) at (1940,1843) {6590$'$};
\draw[zbrace] (1878,1897) -- (1878,1860);
\node[lab] (l56a) at (1869,1876) {MC-CG\\Zone};
\node[lab] (l56b) at (1873,1995) {CG 7};
\node[lab] (l56c) at (1873,2092) {CG 5};
\node[lab] (l56d) at (1873,2128) {CG Zone};
\node[val] (v56a) at (1940,1867) {1.6};
\node[val] (v56b) at (1940,1893) {0.7};
\node[val] (v56c) at (1940,1993) {4.3/0.1};
\node[val] (v56d) at (1940,2094) {0.5};
\node[val] (v56e) at (1940,2130) {0.7};
\draw[dbl] (v55b.east) -- (l56b.west);
\draw[corr] (v55c.east) -- (1807,2013);
\draw[corr] (v55d.east) -- (1753,2036);
\draw[dcorr] (1710,1864) -- (1787,1864);
\draw[dcorr] (1704,1887) -- (1804,1887);
\draw[corr] (1750,2092) -- (l56c.west);
\draw[dcorr] (1724,2130) -- (l56d.west);

% 57
\node[num] (c57) at (2196,1704) {57};
\node[hd] (h57) at (2196,1742) {SEARS, 1925\\PL. 9, NO.86\\NE1/4 NE1/4 NW1/4\\SEC.21};
\draw[bedl] (2169,1946) -- (2228,1946) (2169,2121) -- (2228,2121);
\draw[coal, line width=5.5pt] (2169,2000) -- (2228,2000);
\draw[coal, line width=2pt] (2169,2105) -- (2228,2105);
\draw[notch, line width=2.2pt] (2218,2000) -- (2228,2000);
\draw[colline] (2169,1909) -- (2169,2159) (2228,1909) -- (2228,2159);
\node[elev] (e57) at (2230,1905) {6550$'$};
\node[lab] (l57a) at (2162,1942) {CG 8};
\node[lab] (l57b) at (2162,2002) {CG 7};
\node[lab] (l57c) at (2162,2104) {CG 5};
\node[lab] (l57d) at (2162,2126) {CG Zone};
\node[val] (v57a) at (2230,1946) {0.7};
\node[val] (v57b) at (2230,2000) {9.0/0.7};
\node[val] (v57c) at (2230,2105) {2.3};
\node[val] (v57d) at (2230,2126) {0.5};
\draw[dcorr] (v56a.east) -- (2069,1873);
\draw[dcorr] (v56b.east) -- (2079,1898);
\draw[dbl] (v56c.east) -- (l57b.west);
\draw[dbl] (v56d.east) -- (l57c.west);
\draw[dcorr] (v56e.east) -- (l57d.west);
\draw[corr] (2034,1944) -- (l57a.west);

% 58
\node[num] (c58) at (2485,1705) {58};
\node[hd] (h58) at (2485,1743) {SEARS, 1925\\PL. 9, NO.87\\SE1/4 NE1/4 NW1/4\\SEC.16};
\draw[bedl] (2454,1964) -- (2515,1964) (2454,2022) -- (2515,2022) (2454,2031) -- (2515,2031) (2454,2040) -- (2515,2040) (2454,2090) -- (2515,2090) (2454,2214) -- (2515,2214) (2454,2358) -- (2515,2358);
\draw[coal, line width=2pt] (2454,1986) -- (2515,1986);
\draw[coal, line width=2.4pt] (2454,2007) -- (2515,2007);
\draw[coal, line width=2.2pt] (2454,2068) -- (2515,2068);
\draw[notch] (2507,2007) -- (2515,2007) (2507,2068) -- (2515,2068);
\draw[colline] (2454,1916) -- (2454,2378) (2515,1916) -- (2515,2378);
\node[elev] (e58) at (2517,1912) {6560$'$};
\draw[zbrace] (2452,2012) -- (2452,1978);
\draw[zbrace] (2452,2046) -- (2452,2020);
\draw[zbrace] (2452,2214) -- (2452,2090);
\node[lab] (l58a) at (2447,1958) {CG Zone};
\node[lab] (l58b) at (2443,1995) {CG 7};
\node[lab] (l58c) at (2443,2033) {CG Zone};
\node[lab] (l58d) at (2447,2068) {CG 6};
\node[lab] (l58e) at (2443,2153) {CG Zone};
\node[lab] (l58f) at (2447,2358) {L};
\node[val] (v58a) at (2517,1961) {0.3};
\node[val] (v58b) at (2517,1984) {1.7/0.3};
\node[val] (v58c) at (2517,2006) {3.6/0.2};
\node[val] (v58d) at (2596,2020) {0.2};
\node[val] (v58e) at (2517,2031) {0.1};
\node[val] (v58f) at (2553,2042) {1.6};
\node[val] (v58g) at (2517,2069) {3.3/0.3};
\node[val] (v58h) at (2517,2092) {0.6};
\node[val] (v58i) at (2517,2215) {1.0};
\node[val] (v58j) at (2517,2358) {0.3};
\draw[corr] (v57a.east) -- (l58a.west);
\draw[corr] (2235,1986) -- (l58b.west);
\draw[corr] (2233,2011) -- (2440,2011);
\draw[corr] (v57d.east) -- (2367,2121);
\draw[dbl] (2287,2067) -- (l58d.west);
\draw[dcorr] (2313,2212) -- (2436,2212);
\draw[dcorr] (2307,2358) -- (l58f.west);

% 59
\node[num] (c59) at (2768,1802) {59};
\node[hd] (h59) at (2768,1840) {SEARS, 1925\\PL. 9, NO.88\\NE1/4 SE1/4 SW1/4\\SEC. 9};
\draw[bedl] (2741,2072) -- (2800,2072) (2741,2140) -- (2800,2140) (2741,2220) -- (2800,2220) (2741,2242) -- (2800,2242);
\draw[colline] (2741,2031) -- (2741,2256) (2800,2031) -- (2800,2256);
\node[elev] (e59) at (2802,2027) {6580$'$};
\draw[zbrace] (2739,2222) -- (2739,2136);
\node[lab] (l59a) at (2734,2072) {CG 6};
\node[lab] (l59b) at (2730,2187) {CG Zone};
\node[lab] (l59c) at (2734,2240) {CG 4};
\node[val] (v59a) at (2802,2072) {1.5};
\node[val] (v59b) at (2802,2141) {0.7};
\node[val] (v59c) at (2802,2217) {0.7};
\node[val] (v59d) at (2802,2243) {0.2};
\draw[dcorr] (v58a.east) -- (2666,1964);
\draw[dcorr, line width=0.9pt] (v58b.east) -- (2695,1986);
\draw[dcorr, line width=0.9pt] (v58c.east) -- (2697,2000);
\draw[dcorr] (v58d.east) -- (2706,2021);
\draw[corr] (2557,2031) -- (2700,2031);
\draw[corr] (v58f.east) -- (2666,2043);
\draw[corr] (v58g.east) -- (l59a.west);
\draw[corr] (v58i.east) -- (2738,2219);
\draw[corr] (2614,2138) -- (2723,2138);
\draw[corr] (2594,2240) -- (l59c.west);
\draw[dcorr] (v58j.east) -- (2674,2358);

% 60
\node[num] (c60) at (3046,1770) {60};
\node[hd] (h60) at (3046,1808) {SEARS, 1925\\PL. 9, NO.89\\SE1/4 SE1/4 NW1/4\\SEC. 9};
\draw[bedl] (3024,2009) -- (3083,2009);
\draw[coal, line width=1.8pt] (3024,2001) -- (3083,2001);
\draw[coal, line width=2pt] (3024,2034) -- (3083,2034);
\draw[coal, line width=1.6pt] (3024,2061) -- (3083,2061);
\draw[notch] (3075,2001) -- (3083,2001) (3075,2061) -- (3083,2061);
\draw[colline] (3024,1970) -- (3024,2106) (3083,1970) -- (3083,2106);
\node[elev] (e60) at (3085,1966) {6600$'$};
\draw[zbrace] (3022,2048) -- (3022,2007);
\node[lab] (l60a) at (3017,1998) {CG 7};
\node[lab] (l60b) at (3013,2030) {CG Zone};
\node[lab] (l60c) at (3017,2060) {CG 6};
\node[val] (v60a) at (3085,1999) {2.5/0.1};
\node[val] (v60b) at (3085,2017) {0.4};
\node[val] (v60c) at (3085,2037) {2.9};
\node[val] (v60d) at (3127,2049) {1.2};
\node[val] (v60e) at (3085,2068) {1.7/1.5};
\draw[dbl] (v59a.east) -- (l60c.west);
\draw[corr] (v59b.east) -- (2951,2126);
\draw[corr] (v59c.east) -- (2931,2203);
\draw[dcorr, line width=1pt] (2862,1998) -- (2954,1998);
\draw[dcorr] (2868,2007) -- (2954,2007);
\draw[corr, line width=1pt] (2846,2036) -- (2926,2036);
\draw[corr] (2850,2043) -- (l60b.west);

% 61
\node[num] (c61) at (3355,1774) {61};
\node[hd] (h61) at (3355,1812) {SEARS, 1925\\PL. 9, NO.90\\NE1/4 SE1/4 NW1/4\\SEC.9};
\draw[bedl] (3333,2065) -- (3391,2065) (3333,2077) -- (3391,2077);
\draw[coal, line width=2pt] (3333,2255) -- (3391,2255);
\draw[colline] (3333,1980) -- (3333,2277) (3391,1980) -- (3391,2277);
\node[elev] (e61) at (3393,1980) {6620$'$};
\node[lab] (l61a) at (3326,2061) {CG Zone};
\node[lab] (l61b) at (3326,2082) {CG 6};
\node[lab] (l61c) at (3326,2254) {CG 4};
\node[val] (v61a) at (3393,2060) {0.4};
\node[val] (v61b) at (3393,2081) {1.4};
\node[val] (v61c) at (3393,2256) {1.4/1.0};
\draw[dbl, line width=0.6pt] (v60a.east) -- (3252,2000);
\draw[dbl, line width=0.6pt] (v60c.east) -- (3247,2036);
\draw[corr] (v60e.east) -- (l61a.west);
\draw[corr] (v60e.east) -- (l61b.west);
\draw[dcorr] (v59d.east) -- (l61c.west);

% 62
\node[num] (c62) at (3640,1851) {62};
\node[hd] (h62) at (3640,1889) {SEARS, 1925\\PL. 9, NO.91\\SE1/4 NE1/4 NW1/4\\SEC. 9};
\draw[bedl] (3620,2126) -- (3677,2126) (3620,2138) -- (3677,2138) (3620,2252) -- (3677,2252);
\draw[coal, line width=1.8pt] (3620,2087) -- (3677,2087);
\draw[notch] (3669,2087) -- (3677,2087);
\draw[colline] (3620,2065) -- (3620,2268) (3677,2065) -- (3677,2268);
\node[elev] (e62) at (3679,2062) {6600$'$};
\node[lab] (l62a) at (3613,2082) {CG 6};
\node[lab] (l62b) at (3613,2123) {CG 5};
\node[lab] (l62c) at (3613,2143) {CG Zone};
\node[lab] (l62d) at (3613,2251) {CG 4};
\node[val] (v62a) at (3679,2087) {1.4/0.1};
\node[val] (v62b) at (3679,2126) {1.0};
\node[val] (v62c) at (3679,2145) {0.4};
\node[val] (v62d) at (3679,2251) {0.5};
\draw[dbl] (v61b.east) -- (l62a.west);
\draw[dbl] (v61c.east) -- (l62d.west);
\draw[corr] (3499,2123) -- (l62b.west);
\draw[corr] (3468,2135) -- (3513,2135);

% 63
\node[num] (c63) at (3933,1750) {63};
\node[hd] (h63) at (3933,1788) {SEARS, 1925\\PL. 9, NO.92\\NE1/4 SE1/4 SW1/4\\SEC.4};
\draw[bedl] (3908,1971) -- (3966,1971) (3908,2084) -- (3966,2084) (3908,2094) -- (3966,2094) (3908,2216) -- (3966,2216) (3908,2233) -- (3966,2233) (3908,2239) -- (3966,2239);
\draw[coal, line width=2pt] (3908,2014) -- (3966,2014);
\draw[coal, line width=1.6pt] (3908,2203) -- (3966,2203);
\draw[notch] (3958,2014) -- (3966,2014);
\draw[colline] (3908,1940) -- (3908,2272) (3966,1940) -- (3966,2272);
\node[elev] (e63) at (3968,1938) {6710$'$};
\draw[zbrace] (3906,2236) -- (3906,2090);
\node[lab] (l63a) at (3901,1973) {CG 8};
\node[lab] (l63b) at (3901,2015) {CG 7};
\node[lab] (l63c) at (3901,2079) {CG 6};
\node[lab] (l63d) at (3897,2167) {CG Zone};
\node[lab] (l63e) at (3897,2245) {CG 4};
\node[val] (v63a) at (3968,1971) {1.0};
\node[val] (v63b) at (3968,2017) {2.0/0.1};
\node[val] (v63c) at (3968,2080) {1.5};
\node[val] (v63d) at (3968,2100) {1.0};
\node[val] (v63e) at (3968,2201) {0.8/0.1};
\node[val] (v63f) at (3968,2220) {0.7};
\node[val] (v63g) at (4008,2232) {0.9};
\node[val] (v63h) at (3968,2240) {0.5};
\draw[dbl] (v62a.east) -- (l63c.west);
\draw[corr] (3784,2095) -- (3887,2095);
\draw[corr] (v62b.east) -- (3772,2125);
\draw[corr] (v62c.east) -- (3781,2140);
\draw[corr] (v62d.east) -- (l63e.west);
\draw[dcorr] (3743,1971) -- (l63a.west);
\draw[dcorr, line width=1pt] (3726,2015) -- (l63b.west);
\draw[corr, line width=1pt] (3758,2202) -- (3887,2202);
\draw[corr] (3769,2215) -- (3887,2215);
\draw[corr] (3761,2229) -- (3887,2229);

% 64
\node[num] (c64) at (4222,1762) {64};
\node[hd] (h64) at (4222,1800) {SEARS, 1925\\PL. 9, NO.93\\SE1/4 SE1/4 NW1/4\\SEC.4};
\draw[bedl] (4194,2045) -- (4254,2045) (4194,2069) -- (4254,2069) (4194,2075) -- (4254,2075);
\draw[coal] (4194,2013) -- (4254,2013);
\draw[coal, line width=1.4pt] (4194,2062) -- (4254,2062);
\draw[notch] (4246,2013) -- (4254,2013);
\draw[colline] (4194,1992) -- (4194,2100) (4254,1992) -- (4254,2100);
\node[elev] (e64) at (4256,1986) {6730$'$};
\node[lab] (l64a) at (4187,2014) {CG 7};
\node[lab] (l64b) at (4187,2041) {CG Zone};
\node[lab] (l64c) at (4187,2066) {CG 6};
\node[val] (v64a) at (4256,2011) {5.2/1.5};
\node[val] (v64b) at (4256,2040) {1.7};
\node[val] (v64c) at (4256,2058) {2.5};
\node[val] (v64d) at (4305,2066) {0.5};
\node[val] (v64e) at (4256,2078) {1.5};
\draw[dcorr] (v63a.east) -- (4128,1970);
\draw[dbl] (v63b.east) -- (l64a.west);
\draw[corr] (4039,2046) -- (l64b.west);
\draw[corr] (v63c.east) -- (l64c.west);
\draw[dcorr] (v63d.east) -- (4111,2098);
\draw[dcorr, line width=1pt] (v63e.east) -- (4163,2203);
\draw[dcorr] (v63f.east) -- (4140,2217);
\draw[dcorr] (v63g.east) -- (4143,2233);
\draw[dcorr] (4045,2242) -- (4143,2242);

% 65
\node[num] (c65) at (4508,1798) {65};
\node[hd] (h65) at (4508,1836) {SEARS, 1925\\PL. 9, NO.95\\SE1/4 NE1/4 NW1/4\\SEC .4};
\draw[coal, line width=4.4pt] (4483,2012) -- (4544,2012);
\draw[notch, line width=1.8pt] (4534,2012) -- (4544,2012);
\draw[colline] (4483,1989) -- (4483,2039) (4544,1989) -- (4544,2039);
\node[elev] (e65) at (4546,1985) {6720$'$};
\node[lab] (l65a) at (4476,2014) {CG 7};
\node[val] (v65a) at (4546,2012) {5.1/1.2};
\draw[dbl] (v64a.east) -- (l65a.west);
\draw[corr] (v64b.east) -- (4369,2045);
\draw[dcorr] (v64d.east) -- (4458,2063);
\draw[dcorr] (4335,2077) -- (4464,2077);
\end{tikzpicture}
\end{document}
